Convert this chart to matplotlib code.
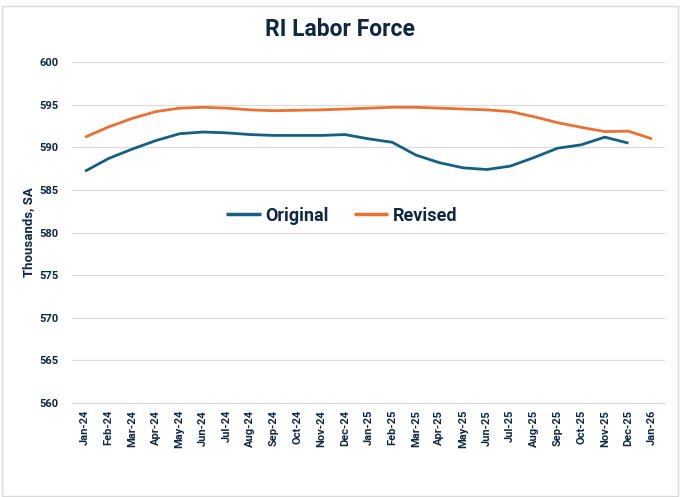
import numpy as np
from matplotlib import pyplot as plt
from matplotlib.patches import Rectangle

# month labels, Jan-24 .. Jan-26
months = ['Jan-24', 'Feb-24', 'Mar-24', 'Apr-24', 'May-24', 'Jun-24', 'Jul-24',
          'Aug-24', 'Sep-24', 'Oct-24', 'Nov-24', 'Dec-24', 'Jan-25', 'Feb-25',
          'Mar-25', 'Apr-25', 'May-25', 'Jun-25', 'Jul-25', 'Aug-25', 'Sep-25',
          'Oct-25', 'Nov-25', 'Dec-25', 'Jan-26']

# labor force, thousands SA
original = [587.2, 588.7, 589.8, 590.8, 591.6, 591.8, 591.7, 591.5, 591.4,
            591.4, 591.4, 591.5, 591.0, 590.6, 589.1, 588.2, 587.6, 587.4,
            587.8, 588.8, 589.9, 590.3, 591.2, 590.5]
revised = [591.2, 592.4, 593.4, 594.2, 594.6, 594.7, 594.6, 594.4, 594.3,
           594.35, 594.4, 594.5, 594.6, 594.7, 594.7, 594.6, 594.5, 594.4,
           594.2, 593.6, 592.9, 592.35, 591.85, 591.9, 591.0]

yticks = [560, 565, 570, 575, 580, 585, 590, 595, 600]

txt = '#0E2841'
blue = '#156082'
orange = '#E97132'
plt.rcParams['font.family'] = ['Roboto', 'DejaVu Sans']

fig = plt.figure(figsize=(6.8, 4.97), dpi=100)
ax = fig.add_axes([0.106, 0.189, 0.872, 0.686])

ax.plot(np.arange(len(original)), original, color=blue, lw=2.0, label='Original',
        solid_capstyle='butt')
ax.plot(np.arange(len(revised)), revised, color=orange, lw=2.0, label='Revised',
        solid_capstyle='butt')

ax.set_ylim(560, 600)
ax.set_yticks(yticks)
ax.set_xlim(-0.55, len(months) - 0.45)
ax.set_xticks(np.arange(len(months)))
ax.set_xticklabels(months, rotation=90)
ax.grid(axis='y', color='#D9D9D9', lw=0.8)
ax.set_axisbelow(True)
for s in ax.spines.values():
    s.set_visible(False)
ax.spines['bottom'].set_visible(True)
ax.spines['bottom'].set_color('#D9D9D9')
ax.tick_params(length=0, labelcolor=txt)
ax.tick_params(axis='y', pad=10)
ax.tick_params(axis='x', pad=5)
for lab in ax.get_xticklabels() + ax.get_yticklabels():
    lab.set_fontweight('bold')
    lab.set_fontsize(8)

ax.set_ylabel('Thousands, SA', color=txt, fontsize=9.5, fontweight='bold', labelpad=3)

fig.text(0.5, 0.94, 'RI Labor Force', ha='center', va='center', color=txt,
         fontsize=16.5, fontweight='bold')

leg = ax.legend(loc='center', bbox_to_anchor=(0.455, 0.55), ncol=2, frameon=False,
                fontsize=13, handlelength=1.9, handletextpad=0.25, columnspacing=1.4)
for t in leg.get_texts():
    t.set_color(txt)
    t.set_fontweight('bold')
for h in leg.legend_handles:
    h.set_linewidth(2.5)

# chart frame
fig.patches.append(Rectangle((0.003, 0.003), 0.994, 0.985, transform=fig.transFigure,
                             fill=False, ec='#D9D9D9', lw=1))

fig.savefig('out.png', dpi=100)
